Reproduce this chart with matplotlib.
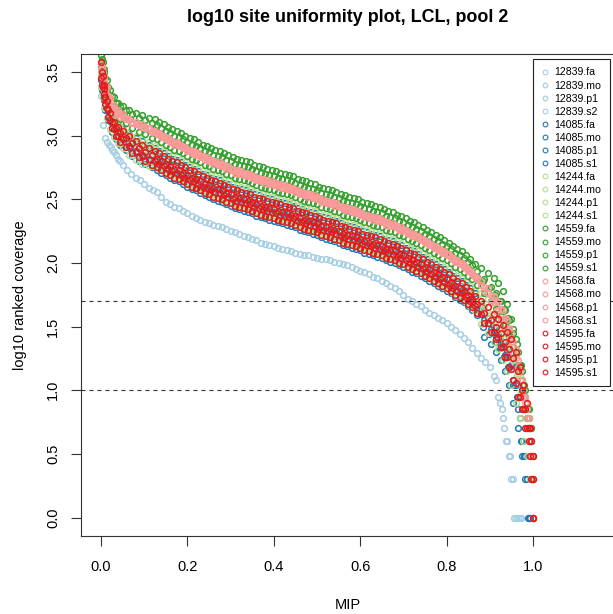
import matplotlib
matplotlib.use("Agg")
import matplotlib.pyplot as plt
from matplotlib.lines import Line2D
from numpy import nan

plt.rcParams['font.family'] = ['Liberation Sans', 'DejaVu Sans']

# ---------------- data ----------------
TITLE = "log10 site uniformity plot, LCL, pool 2"
XLABEL = "MIP"
YLABEL = "log10 ranked coverage"
X_TICKS = [0.0, 0.2, 0.4, 0.6, 0.8, 1.0]
Y_TICKS = [0.0, 0.5, 1.0, 1.5, 2.0, 2.5, 3.0, 3.5]
H_LINES = [1.7, 1.0]

# ---- MIP rank-fraction sample positions ----
# sparse samplings (used by series that are mostly hidden under other series)
X_A = [0.000, 0.004, 0.008, 0.013, 0.020, 0.030, 0.040, 0.050, 0.065, 0.080, 0.095, 0.110,
       0.125, 0.145, 0.165, 0.185, 0.205, 0.225, 0.245, 0.265, 0.285, 0.305, 0.325, 0.345,
       0.365, 0.385, 0.405, 0.425, 0.445, 0.465, 0.485, 0.505, 0.525, 0.545, 0.565, 0.585,
       0.605, 0.625, 0.645, 0.665, 0.685, 0.705, 0.725, 0.745, 0.765, 0.785, 0.805, 0.825,
       0.845, 0.865,
       0.880, 0.895, 0.910, 0.920, 0.930, 0.940, 0.950, 0.960, 0.970, 0.978, 0.986, 0.993, 1.000]
X_B = [0.002, 0.006, 0.010, 0.016, 0.025, 0.035, 0.045, 0.057, 0.072, 0.087, 0.102, 0.117,
       0.135, 0.155, 0.175, 0.195, 0.215, 0.235, 0.255, 0.275, 0.295, 0.315, 0.335, 0.355,
       0.375, 0.395, 0.415, 0.435, 0.455, 0.475, 0.495, 0.515, 0.535, 0.555, 0.575, 0.595,
       0.615, 0.635, 0.655, 0.675, 0.695, 0.715, 0.735, 0.755, 0.775, 0.795, 0.815, 0.835,
       0.855, 0.875,
       0.887, 0.902, 0.915, 0.925, 0.935, 0.945, 0.955, 0.965, 0.974, 0.982, 0.990, 0.996, 1.000]
X_C = [0.001, 0.005, 0.009, 0.015, 0.022, 0.032, 0.042, 0.053, 0.068, 0.083, 0.098, 0.113,
       0.130, 0.150, 0.170, 0.190, 0.210, 0.230, 0.250, 0.270, 0.290, 0.310, 0.330, 0.350,
       0.370, 0.390, 0.410, 0.430, 0.450, 0.470, 0.490, 0.510, 0.530, 0.550, 0.570, 0.590,
       0.610, 0.630, 0.650, 0.670, 0.690, 0.710, 0.730, 0.750, 0.770, 0.790, 0.810, 0.830,
       0.850, 0.870,
       0.884, 0.899, 0.913, 0.923, 0.933, 0.943, 0.953, 0.963, 0.972, 0.980, 0.988, 0.995, 1.000]
X_D = [0.003, 0.007, 0.011, 0.018, 0.027, 0.037, 0.047, 0.060, 0.075, 0.090, 0.105, 0.120,
       0.140, 0.160, 0.180, 0.200, 0.220, 0.240, 0.260, 0.280, 0.300, 0.320, 0.340, 0.360,
       0.380, 0.400, 0.420, 0.440, 0.460, 0.480, 0.500, 0.520, 0.540, 0.560, 0.580, 0.600,
       0.620, 0.640, 0.660, 0.680, 0.700, 0.720, 0.740, 0.760, 0.780, 0.800, 0.820, 0.840,
       0.860, 0.880,
       0.890, 0.905, 0.917, 0.927, 0.937, 0.947, 0.957, 0.967, 0.976, 0.984, 0.991, 0.997, 1.000]
# dense samplings (used by the visible series)
XD_A = [0.000, 0.004, 0.008, 0.013, 0.020, 0.030, 0.040, 0.050, 0.065, 0.080, 0.095, 0.110,
        0.125, 0.135, 0.145, 0.155, 0.165, 0.175, 0.185, 0.195, 0.205, 0.215,
        0.225, 0.235, 0.245, 0.255, 0.265, 0.275, 0.285, 0.295, 0.305, 0.315,
        0.325, 0.335, 0.345, 0.355, 0.365, 0.375, 0.385, 0.395, 0.405, 0.415,
        0.425, 0.435, 0.445, 0.455, 0.465, 0.475, 0.485, 0.495, 0.505, 0.515,
        0.525, 0.535, 0.545, 0.555, 0.565, 0.575, 0.585, 0.595, 0.605, 0.615,
        0.625, 0.635, 0.645, 0.655, 0.665, 0.675, 0.685, 0.695, 0.705, 0.715,
        0.725, 0.735, 0.745, 0.755, 0.765, 0.775, 0.785, 0.795, 0.805, 0.815,
        0.825, 0.835, 0.845, 0.855, 0.865,
        0.880, 0.895, 0.910, 0.920, 0.930, 0.940, 0.950, 0.960, 0.970, 0.978, 0.986, 0.993, 1.000]
XD_B = [0.002, 0.006, 0.010, 0.016, 0.025, 0.035, 0.045, 0.057, 0.072, 0.087, 0.102, 0.117,
        0.130, 0.140, 0.150, 0.160, 0.170, 0.180, 0.190, 0.200, 0.210, 0.220,
        0.230, 0.240, 0.250, 0.260, 0.270, 0.280, 0.290, 0.300, 0.310, 0.320,
        0.330, 0.340, 0.350, 0.360, 0.370, 0.380, 0.390, 0.400, 0.410, 0.420,
        0.430, 0.440, 0.450, 0.460, 0.470, 0.480, 0.490, 0.500, 0.510, 0.520,
        0.530, 0.540, 0.550, 0.560, 0.570, 0.580, 0.590, 0.600, 0.610, 0.620,
        0.630, 0.640, 0.650, 0.660, 0.670, 0.680, 0.690, 0.700, 0.710, 0.720,
        0.730, 0.740, 0.750, 0.760, 0.770, 0.780, 0.790, 0.800, 0.810, 0.820,
        0.830, 0.840, 0.850, 0.860, 0.870,
        0.887, 0.902, 0.915, 0.925, 0.935, 0.945, 0.955, 0.965, 0.974, 0.982, 0.990, 0.996, 1.000]

# 12839.fa: the isolated low curve
X_12839_fa = [0.000, 0.005, 0.010, 0.014, 0.018, 0.022, 0.026, 0.030, 0.035, 0.040, 0.045, 0.050,
              0.06, 0.07, 0.08, 0.09, 0.10, 0.11, 0.12, 0.13, 0.14, 0.15, 0.16, 0.17, 0.18, 0.19,
              0.20, 0.21, 0.22, 0.23, 0.24, 0.25, 0.26, 0.27, 0.28, 0.29, 0.30, 0.31, 0.32, 0.33,
              0.34, 0.35, 0.36, 0.37, 0.38, 0.39, 0.40, 0.41, 0.42, 0.43, 0.44, 0.45, 0.46, 0.47,
              0.48, 0.49, 0.50, 0.51, 0.52, 0.53, 0.54, 0.55, 0.56, 0.57, 0.58, 0.59, 0.60, 0.61,
              0.62, 0.63, 0.64, 0.65, 0.66, 0.67, 0.68, 0.69, 0.70, 0.71, 0.72, 0.73, 0.74, 0.75,
              0.76, 0.77, 0.78, 0.79, 0.80, 0.81, 0.82, 0.83, 0.84, 0.85, 0.86, 0.87, 0.88, 0.89,
              0.90, 0.91,
              0.915, 0.920, 0.924, 0.928, 0.931, 0.934, 0.937, 0.941, 0.944, 0.947, 0.950, 0.954,
              0.957, 0.961, 0.965, 0.969, 0.973]
Y_12839_fa = [3.31, 3.08, 2.98, 2.95, 2.93, 2.91, 2.89, 2.87, 2.85, 2.82, 2.80, 2.77,
              2.73, 2.70, 2.67, 2.65, 2.62, 2.59, 2.575, 2.56, 2.52, 2.48, 2.46, 2.44, 2.43, 2.41,
              2.39, 2.37, 2.35, 2.34, 2.32, 2.31, 2.30, 2.29, 2.28, 2.27, 2.25, 2.24, 2.23, 2.21,
              2.20, 2.19, 2.18, 2.16, 2.15, 2.14, 2.13, 2.12, 2.11, 2.10, 2.09, 2.08, 2.07, 2.06,
              2.06, 2.05, 2.04, 2.03, 2.03, 2.02, 2.01, 2.00, 1.99, 1.98, 1.97, 1.95, 1.94, 1.93,
              1.91, 1.89, 1.88, 1.86, 1.84, 1.82, 1.80, 1.78, 1.75, 1.72, 1.70, 1.68, 1.66, 1.63,
              1.61, 1.59, 1.57, 1.55, 1.53, 1.50, 1.47, 1.44, 1.41, 1.38, 1.33, 1.29, 1.25, 1.22,
              1.18, 1.11,
              1.08, 0.95, 0.90, 0.85, 0.78, 0.70, 0.60, 0.60, 0.48, 0.48, 0.30, 0.30,
              0.00, 0.00, 0.00, 0.00, 0.00]

Y_12839_mo = [3.40, 3.35, 3.28, 3.20, 3.12, 3.07, 3.03, 3.00, 2.95, 2.92, 2.89, 2.87,
              2.83, 2.79, 2.76, 2.72, 2.69, 2.65, 2.62, 2.60, 2.57, 2.54, 2.52, 2.49, 2.47, 2.45,
              2.43, 2.41, 2.38, 2.36, 2.34, 2.31, 2.29, 2.26, 2.24, 2.22, 2.19, 2.17, 2.14, 2.12,
              2.09, 2.05, 2.02, 1.98, 1.94, 1.90, 1.85, 1.81, 1.75, 1.68,
              1.61, 1.55, 1.50, 1.45, 1.38, 1.32, 1.25, 1.15, 1.00, 0.85, 0.70, 0.60, 0.30]
Y_12839_p1 = [3.38, 3.33, 3.27, 3.20, 3.12, 3.06, 3.01, 2.98, 2.94, 2.90, 2.87, 2.84,
              2.81, 2.77, 2.73, 2.70, 2.66, 2.63, 2.60, 2.57, 2.54, 2.51, 2.49, 2.47, 2.44, 2.42,
              2.40, 2.38, 2.36, 2.33, 2.31, 2.28, 2.26, 2.24, 2.21, 2.19, 2.16, 2.14, 2.12, 2.09,
              2.06, 2.03, 2.00, 1.96, 1.92, 1.88, 1.84, 1.79, 1.74, 1.67,
              1.60, 1.53, 1.46, 1.41, 1.34, 1.26, 1.17, 1.06, 0.95, 0.85, 0.70, 0.48, 0.00]
Y_12839_s2 = [3.36, 3.30, 3.24, 3.16, 3.08, 3.02, 2.97, 2.94, 2.89, 2.85, 2.82, 2.80,
              2.76, 2.72, 2.69, 2.65, 2.62, 2.58, 2.55, 2.53, 2.50, 2.47, 2.45, 2.42, 2.40, 2.38,
              2.36, 2.34, 2.31, 2.29, 2.27, 2.24, 2.22, 2.19, 2.17, 2.15, 2.12, 2.10, 2.07, 2.05,
              2.02, 1.98, 1.95, 1.91, 1.87, 1.83, 1.78, 1.74, 1.68, 1.61,
              1.53, 1.46, 1.40, 1.34, 1.26, 1.18, 1.08, 0.95, 0.85, 0.70, 0.60, 0.30, 0.00]

Y_14085_fa = [3.50, 3.43, 3.35, 3.27, 3.18, 3.12, 3.08, 3.05, 3.01, 2.98, 2.96, 2.93,
              2.90, 2.88, 2.86, 2.84, 2.82, 2.81, 2.79, 2.77, 2.75, 2.74,
              2.72, 2.70, 2.69, 2.67, 2.66, 2.65, 2.63, 2.62, 2.60, 2.59,
              2.58, 2.57, 2.56, 2.54, 2.53, 2.52, 2.51, 2.50, 2.49, 2.48,
              2.47, 2.46, 2.45, 2.43, 2.42, 2.41, 2.40, 2.39, 2.37, 2.36,
              2.35, 2.34, 2.33, 2.31, 2.30, 2.29, 2.28, 2.27, 2.25, 2.24,
              2.23, 2.22, 2.21, 2.19, 2.18, 2.17, 2.15, 2.14, 2.12, 2.10,
              2.09, 2.07, 2.05, 2.03, 2.01, 1.99, 1.97, 1.95, 1.93, 1.90,
              1.88, 1.86, 1.83, 1.80, 1.76,
              1.66, 1.57, 1.50, 1.45, 1.38, 1.30, 1.20, 1.04, 0.78, 0.60, 0.30, 0.00, nan]
Y_14085_mo = [3.46, 3.37, 3.29, 3.20, 3.11, 3.06, 3.02, 2.98, 2.94, 2.90, 2.87, 2.85,
              2.81, 2.77, 2.74, 2.70, 2.67, 2.63, 2.60, 2.58, 2.55, 2.52, 2.50, 2.47, 2.45, 2.43,
              2.41, 2.39, 2.36, 2.34, 2.32, 2.29, 2.27, 2.24, 2.22, 2.20, 2.17, 2.15, 2.12, 2.10,
              2.07, 2.03, 2.00, 1.96, 1.92, 1.88, 1.83, 1.79, 1.73, 1.66,
              1.55, 1.48, 1.42, 1.36, 1.28, 1.18, 1.04, 0.85, 0.60, 0.48, 0.00, nan, nan]
Y_14085_p1 = [3.44, 3.36, 3.28, 3.20, 3.11, 3.05, 2.99, 2.96, 2.91, 2.87, 2.84, 2.81,
              2.78, 2.74, 2.70, 2.67, 2.63, 2.60, 2.57, 2.54, 2.51, 2.48, 2.46, 2.44, 2.41, 2.39,
              2.37, 2.35, 2.33, 2.30, 2.28, 2.25, 2.23, 2.21, 2.18, 2.16, 2.13, 2.11, 2.09, 2.06,
              2.03, 2.00, 1.97, 1.93, 1.89, 1.85, 1.81, 1.76, 1.71, 1.64,
              1.50, 1.44, 1.38, 1.33, 1.26, 1.18, 1.08, 0.95, 0.60, 0.48, 0.00, nan, nan]
Y_14085_s1 = [3.36, 3.28, 3.20, 3.12, 3.03, 2.97, 2.93, 2.89, 2.84, 2.80, 2.78, 2.75,
              2.73, 2.71, 2.69, 2.67, 2.65, 2.64, 2.62, 2.60, 2.58, 2.57,
              2.55, 2.53, 2.52, 2.50, 2.49, 2.48, 2.46, 2.45, 2.43, 2.42,
              2.41, 2.40, 2.39, 2.37, 2.36, 2.35, 2.34, 2.33, 2.32, 2.31,
              2.30, 2.29, 2.28, 2.26, 2.25, 2.24, 2.23, 2.22, 2.20, 2.19,
              2.18, 2.17, 2.16, 2.14, 2.13, 2.12, 2.11, 2.10, 2.08, 2.07,
              2.06, 2.05, 2.04, 2.02, 2.01, 2.00, 1.98, 1.97, 1.95, 1.93,
              1.92, 1.90, 1.88, 1.86, 1.84, 1.82, 1.80, 1.78, 1.76, 1.73,
              1.71, 1.69, 1.66, 1.63, 1.59,
              1.42, 1.36, 1.30, 1.24, 1.15, 1.04, 0.90, 0.70, 0.48, 0.30, 0.00, nan, nan]

Y_14244_fa = [3.50, 3.42, 3.35, 3.27, 3.19, 3.14, 3.10, 3.07, 3.03, 3.00, 2.97, 2.95,
              2.92, 2.90, 2.88, 2.86, 2.84, 2.83, 2.81, 2.79, 2.77, 2.76,
              2.74, 2.72, 2.71, 2.69, 2.68, 2.67, 2.65, 2.64, 2.62, 2.61,
              2.60, 2.59, 2.58, 2.56, 2.55, 2.54, 2.53, 2.52, 2.51, 2.50,
              2.49, 2.48, 2.47, 2.45, 2.44, 2.43, 2.42, 2.41, 2.39, 2.38,
              2.37, 2.36, 2.35, 2.33, 2.32, 2.31, 2.30, 2.29, 2.27, 2.26,
              2.25, 2.24, 2.23, 2.21, 2.20, 2.19, 2.17, 2.16, 2.14, 2.12,
              2.11, 2.09, 2.07, 2.05, 2.03, 2.01, 1.99, 1.97, 1.95, 1.92,
              1.90, 1.88, 1.85, 1.82, 1.78,
              1.76, 1.72, 1.68, 1.64, 1.58, 1.50, 1.40, 1.28, 1.12, 0.95, 0.78, 0.60, 0.30]
Y_14244_mo = [3.47, 3.38, 3.31, 3.22, 3.14, 3.09, 3.06, 3.02, 2.98, 2.95, 2.92, 2.90,
              2.86, 2.82, 2.79, 2.75, 2.72, 2.68, 2.65, 2.63, 2.60, 2.57, 2.55, 2.52, 2.50, 2.48,
              2.46, 2.44, 2.41, 2.39, 2.37, 2.34, 2.32, 2.29, 2.27, 2.25, 2.22, 2.20, 2.17, 2.15,
              2.12, 2.08, 2.05, 2.01, 1.97, 1.93, 1.88, 1.84, 1.78, 1.71,
              1.66, 1.60, 1.54, 1.49, 1.42, 1.35, 1.26, 1.13, 1.00, 0.85, 0.70, 0.48, 0.00]
Y_14244_p1 = [3.48, 3.40, 3.32, 3.23, 3.14, 3.08, 3.03, 3.00, 2.96, 2.92, 2.89, 2.86,
              2.83, 2.79, 2.75, 2.72, 2.68, 2.65, 2.62, 2.59, 2.56, 2.53, 2.51, 2.49, 2.46, 2.44,
              2.42, 2.40, 2.38, 2.35, 2.33, 2.30, 2.28, 2.26, 2.23, 2.21, 2.18, 2.16, 2.14, 2.11,
              2.08, 2.05, 2.02, 1.98, 1.94, 1.90, 1.86, 1.81, 1.76, 1.69,
              1.64, 1.58, 1.52, 1.47, 1.40, 1.33, 1.24, 1.12, 0.98, 0.85, 0.70, 0.48, 0.30]
Y_14244_s1 = [3.38, 3.30, 3.22, 3.14, 3.05, 2.99, 2.94, 2.90, 2.85, 2.81, 2.78, 2.76,
              2.76, 2.74, 2.72, 2.70, 2.68, 2.67, 2.65, 2.63, 2.61, 2.60,
              2.58, 2.56, 2.55, 2.53, 2.52, 2.51, 2.49, 2.48, 2.46, 2.45,
              2.44, 2.43, 2.42, 2.40, 2.39, 2.38, 2.37, 2.36, 2.35, 2.34,
              2.33, 2.32, 2.31, 2.29, 2.28, 2.27, 2.26, 2.25, 2.23, 2.22,
              2.21, 2.20, 2.19, 2.17, 2.16, 2.15, 2.14, 2.13, 2.11, 2.10,
              2.09, 2.08, 2.07, 2.05, 2.04, 2.03, 2.01, 2.00, 1.98, 1.96,
              1.95, 1.93, 1.91, 1.89, 1.87, 1.85, 1.83, 1.81, 1.79, 1.76,
              1.74, 1.72, 1.69, 1.66, 1.62,
              1.52, 1.45, 1.38, 1.32, 1.24, 1.15, 1.04, 0.90, 0.78, 0.60, 0.48, 0.30, 0.00]

Y_14559_fa = [3.63, 3.58, 3.50, 3.44, 3.36, 3.30, 3.26, 3.23, 3.20, 3.18, 3.16, 3.14,
              3.13, 3.11, 3.09, 3.07, 3.05, 3.04, 3.02, 3.00, 2.98, 2.97,
              2.95, 2.93, 2.92, 2.90, 2.89, 2.88, 2.86, 2.85, 2.83, 2.82,
              2.81, 2.80, 2.79, 2.77, 2.76, 2.75, 2.74, 2.73, 2.72, 2.71,
              2.70, 2.69, 2.68, 2.66, 2.65, 2.64, 2.63, 2.62, 2.60, 2.59,
              2.58, 2.57, 2.56, 2.54, 2.53, 2.52, 2.51, 2.50, 2.48, 2.47,
              2.46, 2.45, 2.44, 2.42, 2.41, 2.40, 2.38, 2.37, 2.35, 2.33,
              2.32, 2.30, 2.28, 2.26, 2.24, 2.22, 2.20, 2.18, 2.16, 2.13,
              2.11, 2.09, 2.06, 2.03, 1.99,
              1.96, 1.92, 1.88, 1.84, 1.78, 1.68, 1.56, 1.40, 1.20, 1.00, 0.78, 0.60, 0.30]
Y_14559_mo = [3.60, 3.52, 3.45, 3.38, 3.31, 3.26, 3.23, 3.20, 3.17, 3.14, 3.12, 3.10,
              3.08, 3.06, 3.04, 3.02, 3.00, 2.99, 2.97, 2.95, 2.93, 2.92,
              2.90, 2.88, 2.87, 2.85, 2.84, 2.83, 2.81, 2.80, 2.78, 2.77,
              2.76, 2.75, 2.74, 2.72, 2.71, 2.70, 2.69, 2.68, 2.67, 2.66,
              2.65, 2.64, 2.63, 2.61, 2.60, 2.59, 2.58, 2.57, 2.55, 2.54,
              2.53, 2.52, 2.51, 2.49, 2.48, 2.47, 2.46, 2.45, 2.43, 2.42,
              2.41, 2.40, 2.39, 2.37, 2.36, 2.35, 2.33, 2.32, 2.30, 2.28,
              2.27, 2.25, 2.23, 2.21, 2.19, 2.17, 2.15, 2.13, 2.11, 2.08,
              2.06, 2.04, 2.01, 1.98, 1.94,
              1.87, 1.81, 1.76, 1.70, 1.63, 1.55, 1.45, 1.30, 1.15, 1.00, 0.85, 0.70, 0.48]
Y_14559_p1 = [3.55, 3.48, 3.40, 3.34, 3.27, 3.22, 3.19, 3.16, 3.13, 3.10, 3.08, 3.06,
              3.03, 2.99, 2.95, 2.92, 2.88, 2.85, 2.82, 2.79, 2.76, 2.73, 2.71, 2.69, 2.66, 2.64,
              2.62, 2.60, 2.58, 2.55, 2.53, 2.50, 2.48, 2.46, 2.43, 2.41, 2.38, 2.36, 2.34, 2.31,
              2.28, 2.25, 2.22, 2.18, 2.14, 2.10, 2.06, 2.01, 1.96, 1.89,
              1.86, 1.80, 1.75, 1.70, 1.64, 1.57, 1.48, 1.36, 1.20, 1.04, 0.85, 0.70, 0.48]
Y_14559_s1 = [3.53, 3.45, 3.37, 3.29, 3.21, 3.17, 3.13, 3.10, 3.06, 3.03, 3.01, 2.98,
              2.97, 2.95, 2.93, 2.91, 2.89, 2.88, 2.86, 2.84, 2.82, 2.81,
              2.79, 2.77, 2.76, 2.74, 2.73, 2.72, 2.70, 2.69, 2.67, 2.66,
              2.65, 2.64, 2.63, 2.61, 2.60, 2.59, 2.58, 2.57, 2.56, 2.55,
              2.54, 2.53, 2.52, 2.50, 2.49, 2.48, 2.47, 2.46, 2.44, 2.43,
              2.42, 2.41, 2.40, 2.38, 2.37, 2.36, 2.35, 2.34, 2.32, 2.31,
              2.30, 2.29, 2.28, 2.26, 2.25, 2.24, 2.22, 2.21, 2.19, 2.17,
              2.16, 2.14, 2.12, 2.10, 2.08, 2.06, 2.04, 2.02, 2.00, 1.97,
              1.95, 1.93, 1.90, 1.87, 1.83,
              1.76, 1.70, 1.64, 1.58, 1.51, 1.43, 1.34, 1.20, 1.08, 0.95, 0.78, 0.60, 0.30]

Y_14568_fa = [3.56, 3.50, 3.44, 3.38, 3.30, 3.24, 3.20, 3.17, 3.13, 3.11, 3.09, 3.06,
              3.04, 3.02, 3.00, 2.98, 2.96, 2.95, 2.93, 2.91, 2.89, 2.88,
              2.86, 2.84, 2.83, 2.81, 2.80, 2.79, 2.77, 2.76, 2.74, 2.73,
              2.72, 2.71, 2.70, 2.68, 2.67, 2.66, 2.65, 2.64, 2.63, 2.62,
              2.61, 2.60, 2.59, 2.57, 2.56, 2.55, 2.54, 2.53, 2.51, 2.50,
              2.49, 2.48, 2.47, 2.45, 2.44, 2.43, 2.42, 2.41, 2.39, 2.38,
              2.37, 2.36, 2.35, 2.33, 2.32, 2.31, 2.29, 2.28, 2.26, 2.24,
              2.23, 2.21, 2.19, 2.17, 2.15, 2.13, 2.11, 2.09, 2.07, 2.04,
              2.02, 2.00, 1.97, 1.94, 1.90,
              1.86, 1.80, 1.74, 1.69, 1.63, 1.55, 1.45, 1.32, 1.15, 1.00, 0.85, 0.70, 0.30]
Y_14568_mo = [3.54, 3.46, 3.38, 3.31, 3.23, 3.20, 3.17, 3.14, 3.11, 3.09, 3.07, 3.04,
              3.02, 3.00, 2.98, 2.96, 2.94, 2.93, 2.91, 2.89, 2.87, 2.86,
              2.84, 2.82, 2.81, 2.79, 2.78, 2.77, 2.75, 2.74, 2.72, 2.71,
              2.70, 2.69, 2.68, 2.66, 2.65, 2.64, 2.63, 2.62, 2.61, 2.60,
              2.59, 2.58, 2.57, 2.55, 2.54, 2.53, 2.52, 2.51, 2.49, 2.48,
              2.47, 2.46, 2.45, 2.43, 2.42, 2.41, 2.40, 2.39, 2.37, 2.36,
              2.35, 2.34, 2.33, 2.31, 2.30, 2.29, 2.27, 2.26, 2.24, 2.22,
              2.21, 2.19, 2.17, 2.15, 2.13, 2.11, 2.09, 2.07, 2.05, 2.02,
              2.00, 1.98, 1.95, 1.92, 1.88,
              1.81, 1.75, 1.70, 1.64, 1.57, 1.49, 1.38, 1.24, 1.08, 0.95, 0.78, 0.60, 0.00]
Y_14568_p1 = [3.52, 3.45, 3.38, 3.32, 3.27, 3.22, 3.18, 3.15, 3.12, 3.09, 3.07, 3.05,
              3.03, 3.01, 2.99, 2.97, 2.95, 2.94, 2.92, 2.90, 2.88, 2.87,
              2.85, 2.83, 2.82, 2.80, 2.79, 2.78, 2.76, 2.75, 2.73, 2.72,
              2.71, 2.70, 2.69, 2.67, 2.66, 2.65, 2.64, 2.63, 2.62, 2.61,
              2.60, 2.59, 2.58, 2.56, 2.55, 2.54, 2.53, 2.52, 2.50, 2.49,
              2.48, 2.47, 2.46, 2.44, 2.43, 2.42, 2.41, 2.40, 2.38, 2.37,
              2.36, 2.35, 2.34, 2.32, 2.31, 2.30, 2.28, 2.27, 2.25, 2.23,
              2.22, 2.20, 2.18, 2.16, 2.14, 2.12, 2.10, 2.08, 2.06, 2.03,
              2.01, 1.99, 1.96, 1.93, 1.89,
              1.83, 1.76, 1.69, 1.63, 1.56, 1.48, 1.38, 1.25, 1.08, 0.95, 0.78, 0.60, 0.00]
Y_14568_s1 = [3.48, 3.42, 3.35, 3.28, 3.21, 3.17, 3.15, 3.13, 3.10, 3.08, 3.06, 3.03,
              3.01, 2.99, 2.97, 2.95, 2.93, 2.92, 2.90, 2.88, 2.86, 2.85,
              2.83, 2.81, 2.80, 2.78, 2.77, 2.76, 2.74, 2.73, 2.71, 2.70,
              2.69, 2.68, 2.67, 2.65, 2.64, 2.63, 2.62, 2.61, 2.60, 2.59,
              2.58, 2.57, 2.56, 2.54, 2.53, 2.52, 2.51, 2.50, 2.48, 2.47,
              2.46, 2.45, 2.44, 2.42, 2.41, 2.40, 2.39, 2.38, 2.36, 2.35,
              2.34, 2.33, 2.32, 2.30, 2.29, 2.28, 2.26, 2.25, 2.23, 2.21,
              2.20, 2.18, 2.16, 2.14, 2.12, 2.10, 2.08, 2.06, 2.04, 2.01,
              1.99, 1.97, 1.94, 1.91, 1.87,
              1.78, 1.70, 1.62, 1.56, 1.48, 1.40, 1.30, 1.18, 1.04, 0.90, 0.70, 0.48, 0.30]

Y_14595_fa = [3.58, 3.47, 3.37, 3.27, 3.18, 3.11, 3.07, 3.04, 3.00, 2.96, 2.93, 2.90,
              2.88, 2.86, 2.84, 2.82, 2.80, 2.79, 2.77, 2.75, 2.73, 2.72,
              2.70, 2.68, 2.67, 2.65, 2.64, 2.63, 2.61, 2.60, 2.58, 2.57,
              2.56, 2.55, 2.54, 2.52, 2.51, 2.50, 2.49, 2.48, 2.47, 2.46,
              2.45, 2.44, 2.43, 2.41, 2.40, 2.39, 2.38, 2.37, 2.35, 2.34,
              2.33, 2.32, 2.31, 2.29, 2.28, 2.27, 2.26, 2.25, 2.23, 2.22,
              2.21, 2.20, 2.19, 2.17, 2.16, 2.15, 2.13, 2.12, 2.10, 2.08,
              2.07, 2.05, 2.03, 2.01, 1.99, 1.97, 1.95, 1.93, 1.91, 1.88,
              1.86, 1.84, 1.81, 1.78, 1.74,
              1.70, 1.65, 1.60, 1.56, 1.51, 1.46, 1.40, 1.30, 1.18, 1.04, 0.90, 0.70, 0.48]
Y_14595_mo = [3.50, 3.40, 3.30, 3.20, 3.11, 3.06, 3.02, 2.98, 2.94, 2.90, 2.87, 2.85,
              2.82, 2.80, 2.78, 2.76, 2.74, 2.73, 2.71, 2.69, 2.67, 2.66,
              2.64, 2.62, 2.61, 2.59, 2.58, 2.57, 2.55, 2.54, 2.52, 2.51,
              2.50, 2.49, 2.48, 2.46, 2.45, 2.44, 2.43, 2.42, 2.41, 2.40,
              2.39, 2.38, 2.37, 2.35, 2.34, 2.33, 2.32, 2.31, 2.29, 2.28,
              2.27, 2.26, 2.25, 2.23, 2.22, 2.21, 2.20, 2.19, 2.17, 2.16,
              2.15, 2.14, 2.13, 2.11, 2.10, 2.09, 2.07, 2.06, 2.04, 2.02,
              2.01, 1.99, 1.97, 1.95, 1.93, 1.91, 1.89, 1.87, 1.85, 1.82,
              1.80, 1.78, 1.75, 1.72, 1.68,
              1.61, 1.55, 1.50, 1.45, 1.38, 1.32, 1.25, 1.15, 1.00, 0.85, 0.70, 0.60, 0.30]
Y_14595_p1 = [3.45, 3.38, 3.30, 3.22, 3.12, 3.05, 3.00, 2.97, 2.92, 2.88, 2.85, 2.82,
              2.80, 2.78, 2.76, 2.74, 2.72, 2.71, 2.69, 2.67, 2.65, 2.64,
              2.62, 2.60, 2.59, 2.57, 2.56, 2.55, 2.53, 2.52, 2.50, 2.49,
              2.48, 2.47, 2.46, 2.44, 2.43, 2.42, 2.41, 2.40, 2.39, 2.38,
              2.37, 2.36, 2.35, 2.33, 2.32, 2.31, 2.30, 2.29, 2.27, 2.26,
              2.25, 2.24, 2.23, 2.21, 2.20, 2.19, 2.18, 2.17, 2.15, 2.14,
              2.13, 2.12, 2.11, 2.09, 2.08, 2.07, 2.05, 2.04, 2.02, 2.00,
              1.99, 1.97, 1.95, 1.93, 1.91, 1.89, 1.87, 1.85, 1.83, 1.80,
              1.78, 1.76, 1.73, 1.70, 1.66,
              1.60, 1.53, 1.46, 1.41, 1.34, 1.26, 1.17, 1.06, 0.95, 0.85, 0.70, 0.48, 0.00]
Y_14595_s1 = [3.40, 3.33, 3.25, 3.15, 3.06, 3.00, 2.95, 2.91, 2.86, 2.83, 2.80, 2.77,
              2.75, 2.73, 2.71, 2.69, 2.67, 2.66, 2.64, 2.62, 2.60, 2.59,
              2.57, 2.55, 2.54, 2.52, 2.51, 2.50, 2.48, 2.47, 2.45, 2.44,
              2.43, 2.42, 2.41, 2.39, 2.38, 2.37, 2.36, 2.35, 2.34, 2.33,
              2.32, 2.31, 2.30, 2.28, 2.27, 2.26, 2.25, 2.24, 2.22, 2.21,
              2.20, 2.19, 2.18, 2.16, 2.15, 2.14, 2.13, 2.12, 2.10, 2.09,
              2.08, 2.07, 2.06, 2.04, 2.03, 2.02, 2.00, 1.99, 1.97, 1.95,
              1.94, 1.92, 1.90, 1.88, 1.86, 1.84, 1.82, 1.80, 1.78, 1.75,
              1.73, 1.71, 1.68, 1.65, 1.61,
              1.53, 1.46, 1.40, 1.34, 1.26, 1.18, 1.08, 0.95, 0.85, 0.70, 0.60, 0.30, 0.00]

SERIES_LABELS = ["12839.fa", "12839.mo", "12839.p1", "12839.s2",
                 "14085.fa", "14085.mo", "14085.p1", "14085.s1",
                 "14244.fa", "14244.mo", "14244.p1", "14244.s1",
                 "14559.fa", "14559.mo", "14559.p1", "14559.s1",
                 "14568.fa", "14568.mo", "14568.p1", "14568.s1",
                 "14595.fa", "14595.mo", "14595.p1", "14595.s1"]
SERIES_X = [X_12839_fa, X_B, X_C, X_D,
            XD_A, X_B, X_C, XD_B,
            XD_A, X_B, X_C, XD_A,
            XD_A, XD_B, X_C, XD_B,
            XD_A, XD_B, XD_A, XD_B,
            XD_A, XD_B, XD_A, XD_B]
SERIES_Y = [Y_12839_fa, Y_12839_mo, Y_12839_p1, Y_12839_s2,
            Y_14085_fa, Y_14085_mo, Y_14085_p1, Y_14085_s1,
            Y_14244_fa, Y_14244_mo, Y_14244_p1, Y_14244_s1,
            Y_14559_fa, Y_14559_mo, Y_14559_p1, Y_14559_s1,
            Y_14568_fa, Y_14568_mo, Y_14568_p1, Y_14568_s1,
            Y_14595_fa, Y_14595_mo, Y_14595_p1, Y_14595_s1]
GROUP_COLORS = ["#A6CEE3", "#1F78B4", "#B2DF8A", "#33A02C", "#FB9A99", "#E31A1C"]

# ---------------- figure ----------------
W, H = 613, 614
fig = plt.figure(figsize=(W / 100, H / 100), dpi=100)
L, R, T, B = 81, 615, 54, 536
ax = fig.add_axes([L / W, 1 - B / H, (R - L) / W, (B - T) / H])
ax.set_xlim(-0.0463, 1.190)
ax.set_ylim(-0.145, 3.641)

handles = []
for i, (lab, xs, ys) in enumerate(zip(SERIES_LABELS, SERIES_X, SERIES_Y)):
    col = GROUP_COLORS[i // 4]
    n = min(len(xs), len(ys))
    ax.plot(xs[:n], ys[:n], linestyle='none', marker='o', markersize=4.1,
            markerfacecolor='none', markeredgecolor=col, markeredgewidth=1.1)
    handles.append(Line2D([], [], linestyle='none', marker='o', markersize=3.4,
                          markerfacecolor='none', markeredgecolor=col,
                          markeredgewidth=0.8, label=lab))

for yv in H_LINES:
    ax.axhline(yv, color='#333333', lw=0.8, dashes=(3.6, 3.6))

for s in ax.spines.values():
    s.set_linewidth(0.8)
    s.set_color('#333333')

ax.set_xticks(X_TICKS)
ax.set_xticklabels([f"{v:.1f}" for v in X_TICKS])
ax.set_yticks(Y_TICKS)
ax.set_yticklabels([f"{v:.1f}" for v in Y_TICKS], rotation=90, va='center')
ax.tick_params(axis='both', direction='out', length=7, width=0.8, color='#333333',
               labelsize=10.5)
ax.tick_params(axis='x', pad=10)
ax.tick_params(axis='y', pad=8)

leg = ax.legend(handles=handles, loc='upper left',
                bbox_to_anchor=(533 / W, 1 - 59 / H), bbox_transform=fig.transFigure,
                fontsize=7.6, frameon=True, fancybox=False, framealpha=1,
                edgecolor='#222222', borderpad=0.8, handlelength=0.7,
                handletextpad=0.55, labelspacing=0.29, borderaxespad=0)
leg.get_frame().set_linewidth(0.8)

fig.text(348 / W, 1 - 18 / H, TITLE, ha='center', va='center',
         fontsize=12.9, fontweight='bold')
fig.text(348 / W, 1 - 605 / H, XLABEL, ha='center', va='center', fontsize=10.5)
fig.text(20 / W, 1 - 295 / H, YLABEL, ha='center', va='center', fontsize=10.5,
         rotation=90)

fig.savefig("out.png", dpi=100)
